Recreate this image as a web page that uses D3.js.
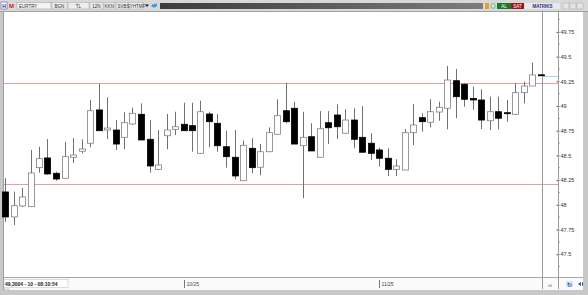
<!DOCTYPE html>
<html>
<head>
<meta charset="utf-8">
<script src="https://cdn.jsdelivr.net/npm/d3@7.9.0/dist/d3.min.js"></script>
<style>
  html, body { margin: 0; padding: 0; background: #fff; }
  svg { display: block; font-family: "Liberation Sans", Arial, sans-serif; }
</style>
</head>
<body>
<svg id="chart" width="588" height="295"></svg>
<script>
// candle data (prices)
const opens = [48.130, 47.877, 47.988, 47.981, 48.376, 48.474, 48.319, 48.268, 48.481, 48.542,
  48.623, 48.960, 48.757, 48.757, 48.683, 48.818, 48.916, 48.663, 48.359, 48.699,
  48.764, 48.815, 48.801, 48.521, 48.919, 48.825, 48.588, 48.481, 48.244, 48.572,
  48.380, 48.537, 48.714, 48.952, 48.977, 48.598, 48.689, 48.481, 48.831, 48.909,
  48.724, 48.858, 48.683, 48.623, 48.555, 48.471, 48.359, 48.352, 48.730, 48.882,
  48.835, 48.939, 48.977, 49.256, 49.220, 49.076, 49.061, 48.851, 48.942, 48.932,
  48.916, 49.135, 49.202, 49.316];
const highs = [48.271, 48.133, 48.170, 48.555, 48.588, 48.666, 48.335, 48.639, 48.676, 48.663,
  49.061, 49.223, 49.088, 48.858, 48.936, 48.983, 49.027, 48.858, 48.757, 48.919,
  48.942, 49.033, 49.033, 49.054, 48.942, 48.919, 48.750, 48.757, 48.649, 48.673,
  48.615, 48.784, 49.068, 49.236, 49.044, 48.942, 48.825, 48.949, 48.949, 49.017,
  48.967, 48.977, 49.000, 48.724, 48.578, 48.572, 48.461, 48.767, 49.020, 48.926,
  49.068, 49.044, 49.405, 49.375, 49.230, 49.195, 49.169, 49.094, 49.094, 49.061,
  49.230, 49.246, 49.438, 49.316];
const lows = [47.826, 47.796, 47.978, 47.981, 48.325, 48.305, 48.244, 48.268, 48.423, 48.521,
  48.582, 48.747, 48.666, 48.555, 48.562, 48.808, 48.656, 48.325, 48.352, 48.562,
  48.706, 48.750, 48.537, 48.514, 48.582, 48.537, 48.376, 48.258, 48.244, 48.319,
  48.299, 48.537, 48.714, 48.825, 48.615, 48.066, 48.545, 48.481, 48.615, 48.666,
  48.724, 48.572, 48.532, 48.454, 48.386, 48.292, 48.292, 48.352, 48.605, 48.740,
  48.784, 48.851, 48.764, 48.876, 48.993, 48.960, 48.767, 48.757, 48.764, 48.841,
  48.916, 49.027, 49.202, 49.306];
const closes = [47.877, 47.991, 48.079, 48.322, 48.467, 48.312, 48.261, 48.487, 48.504, 48.565,
  48.952, 48.750, 48.777, 48.615, 48.831, 48.926, 48.656, 48.393, 48.403, 48.757,
  48.790, 48.750, 48.750, 48.942, 48.841, 48.598, 48.487, 48.292, 48.602, 48.376,
  48.537, 48.730, 48.902, 48.841, 48.615, 48.683, 48.545, 48.770, 48.780, 48.790,
  48.858, 48.663, 48.532, 48.521, 48.471, 48.359, 48.393, 48.730, 48.808, 48.841,
  48.942, 48.987, 49.263, 49.094, 49.068, 49.061, 48.858, 48.942, 48.876, 48.922,
  49.135, 49.202, 49.314, 49.306];

const priceTicks = [49.75, 49.5, 49.25, 49, 48.75, 48.5, 48.25, 48, 47.75, 47.5];
const minorTicks = [49.875, 49.625, 49.375, 49.125, 48.875, 48.625, 48.375, 48.125, 47.875, 47.625, 47.375];
const dateLabels = [{ index: 21, text: "10/25" }, { index: 44, text: "11/25" }];
const levelLines = [49.236, 48.21];
const lastPrice = 49.30;
const statusText = "49,3004 - 10 - 08:10:54";
const toolbarItems = ["BGN", "TL", "12N", "KKN", "SVB", "SYHTMF"];

const svg = d3.select("#chart");
const width = 588, height = 295;

const plot = { left: 4, right: 583, top: 12, bottom: 277 };
const axisX = 558, cursorX = 542;

const x = d3.scaleLinear().domain([0, opens.length - 1]).range([5, 540.5]);
// y(49) = 106, 98.8px per unit
const y = d3.scaleLinear()
  .domain([49 - (plot.bottom - 106) / 98.8, 49 + (106 - plot.top) / 98.8])
  .range([plot.bottom, plot.top]);

// window frame
svg.append("rect").attr("width", width).attr("height", height).attr("fill", "#c8c8c8");
svg.append("rect").attr("x", 0).attr("y", 0).attr("width", width).attr("height", 11).attr("fill", "#d8d8d8");
svg.append("line").attr("x1", 0).attr("x2", width).attr("y1", 11.5).attr("y2", 11.5).attr("stroke", "#a0a0a0");

// toolbar
svg.append("rect").attr("x", 1).attr("y", 2).attr("width", 6).attr("height", 7).attr("fill", "#fff").attr("stroke", "#5060a0").attr("stroke-width", 0.6);
svg.append("text").attr("x", 2.2).attr("y", 7.8).style("font-size", "5px").style("font-weight", "bold").attr("fill", "#203080").text("H");
svg.append("text").attr("x", 9).attr("y", 8).style("font-size", "6px").style("font-weight", "bold").attr("fill", "#d02020").text("M");
svg.append("rect").attr("x", 17).attr("y", 2.5).attr("width", 34).attr("height", 6.5).attr("fill", "#f4f4f4").attr("stroke", "#999").attr("stroke-width", 0.5);
svg.append("text").attr("x", 19).attr("y", 7.8).style("font-size", "4.5px").attr("fill", "#333").text("EURTRY");

const itemX = [52, 68, 90, 104, 116, 129];
const itemW = [15, 21, 13, 11, 12, 14];
toolbarItems.forEach((t, i) => {
  svg.append("rect").attr("x", itemX[i]).attr("y", 2.5).attr("width", itemW[i]).attr("height", 6.5)
    .attr("fill", "#ececec").attr("stroke", "#a8a8a8").attr("stroke-width", 0.5);
  svg.append("text").attr("x", itemX[i] + itemW[i] / 2).attr("y", 7.8).attr("text-anchor", "middle")
    .style("font-size", "4.5px").attr("fill", "#333").text(t);
});
svg.append("path").attr("d", "M145,4.5 L149,4.5 L147,7 Z").attr("fill", "#223");
svg.append("path").attr("d", "M151,6 Q153,3 156,4 L157,3 L157,6 Q155,9 151,6 Z").attr("fill", "#3aa0e0");

const grad = svg.append("defs").append("linearGradient").attr("id", "bar").attr("x1", 0).attr("x2", 1);
grad.append("stop").attr("offset", 0).attr("stop-color", "#3c3c3c");
grad.append("stop").attr("offset", 1).attr("stop-color", "#7c7c7c");
svg.append("rect").attr("x", 160).attr("y", 3).attr("width", 323).attr("height", 6).attr("fill", "url(#bar)");

svg.append("rect").attr("x", 485).attr("y", 3).attr("width", 4).attr("height", 6).attr("fill", "#e0a020");
svg.append("circle").attr("cx", 493).attr("cy", 6).attr("r", 2.3).attr("fill", "#d0e8d8").attr("stroke", "#409060").attr("stroke-width", 0.6);
svg.append("rect").attr("x", 497).attr("y", 3).attr("width", 14).attr("height", 6).attr("fill", "#1a7a2a");
svg.append("text").attr("x", 504).attr("y", 7.8).attr("text-anchor", "middle").style("font-size", "4.5px").attr("fill", "#fff").text("AL");
svg.append("rect").attr("x", 511).attr("y", 3).attr("width", 13).attr("height", 6).attr("fill", "#9a1a1a");
svg.append("text").attr("x", 517.5).attr("y", 7.8).attr("text-anchor", "middle").style("font-size", "4.5px").attr("fill", "#fff").text("SAT");
svg.append("rect").attr("x", 525).attr("y", 3).attr("width", 35).attr("height", 6).attr("fill", "#e8e8f0");
svg.append("text").attr("x", 542.5).attr("y", 7.8).attr("text-anchor", "middle").style("font-size", "4.5px").style("font-weight", "bold").attr("fill", "#303080").text("MATRIKS");
[563, 570, 577].forEach(bx => {
  svg.append("rect").attr("x", bx).attr("y", 3).attr("width", 6).attr("height", 6).attr("fill", "#e4e4e4").attr("stroke", "#aaa").attr("stroke-width", 0.5);
});

// plot area
svg.append("rect").attr("x", plot.left).attr("y", plot.top).attr("width", plot.right - plot.left).attr("height", plot.bottom - plot.top).attr("fill", "#fff");
svg.append("line").attr("x1", 3.5).attr("x2", 3.5).attr("y1", plot.top).attr("y2", 290).attr("stroke", "#a0a0a0");

// bottom strip
svg.append("rect").attr("x", plot.left).attr("y", plot.bottom + 1).attr("width", plot.right - plot.left).attr("height", 12).attr("fill", "#fafafa");
svg.append("line").attr("x1", plot.left).attr("x2", plot.right).attr("y1", plot.bottom + 0.5).attr("y2", plot.bottom + 0.5).attr("stroke", "#a8a8a8");
svg.append("rect").attr("x", 4).attr("y", 279.5).attr("width", 64).attr("height", 8).attr("fill", "#fff").attr("stroke", "#bbb").attr("stroke-width", 0.5);
svg.append("text").attr("x", 5).attr("y", 285.8).style("font-size", "5px").style("font-weight", "bold").attr("fill", "#222").text(statusText);
svg.append("rect").attr("x", 4).attr("y", 289).attr("width", 5).attr("height", 4).attr("fill", "#e8e8e8").attr("stroke", "#999").attr("stroke-width", 0.4);

// level lines
svg.selectAll("line.level")
  .data(levelLines)
  .join("line")
  .attr("class", "level")
  .attr("x1", plot.left)
  .attr("x2", axisX)
  .attr("y1", d => Math.round(y(d)) + 0.5)
  .attr("y2", d => Math.round(y(d)) + 0.5)
  .attr("stroke", "#f29a9a")
  .attr("stroke-width", 1);

// vertical cursor and axis lines
svg.append("line").attr("x1", cursorX + 0.5).attr("x2", cursorX + 0.5).attr("y1", plot.top).attr("y2", plot.bottom)
  .attr("stroke", "#9a9a9a");

// last price marker
svg.append("line").attr("x1", cursorX).attr("x2", axisX).attr("y1", Math.round(y(lastPrice)) + 0.5).attr("y2", Math.round(y(lastPrice)) + 0.5)
  .attr("stroke", "#8fe4e8");

// candles
const candles = opens.map((o, i) => ({ i, o, h: highs[i], l: lows[i], c: closes[i] }));
const bodyW = 6;

const g = svg.append("g");
g.selectAll("line.wick")
  .data(candles)
  .join("line")
  .attr("class", "wick")
  .attr("x1", d => Math.round(x(d.i)) + 0.5)
  .attr("x2", d => Math.round(x(d.i)) + 0.5)
  .attr("y1", d => y(d.h))
  .attr("y2", d => y(d.l))
  .attr("stroke", "#707070")
  .attr("stroke-width", 1);

g.selectAll("rect.body")
  .data(candles)
  .join("rect")
  .attr("class", "body")
  .attr("x", d => Math.round(x(d.i)) + 0.5 - bodyW / 2)
  .attr("y", d => y(Math.max(d.o, d.c)))
  .attr("width", bodyW)
  .attr("height", d => Math.max(1, Math.abs(y(d.o) - y(d.c))))
  .attr("fill", d => d.c >= d.o ? "#fff" : "#000")
  .attr("stroke", d => d.c >= d.o ? "#808080" : "#000")
  .attr("stroke-width", 0.8);

// price axis
const axis = d3.axisRight(y)
  .tickValues(priceTicks)
  .tickSize(3)
  .tickPadding(1)
  .tickFormat(d => String(d));

const ag = svg.append("g").attr("transform", `translate(${axisX - 1.5},0)`).call(axis);
ag.select(".domain").remove();
ag.selectAll("text").style("font-size", "5.5px").attr("fill", "#333");
ag.selectAll("line").attr("stroke", "#555");

svg.append("g")
  .selectAll("line")
  .data(minorTicks)
  .join("line")
  .attr("x1", axisX)
  .attr("x2", axisX + 1.5)
  .attr("y1", d => y(d))
  .attr("y2", d => y(d))
  .attr("stroke", "#555");

svg.append("line").attr("x1", axisX + 0.5).attr("x2", axisX + 0.5).attr("y1", plot.top).attr("y2", plot.bottom)
  .attr("stroke", "#9a9a9a");
svg.append("line").attr("x1", cursorX + 0.5).attr("x2", cursorX + 0.5).attr("y1", plot.bottom).attr("y2", plot.bottom + 12)
  .attr("stroke", "#9a9a9a");
svg.append("line").attr("x1", axisX + 0.5).attr("x2", axisX + 0.5).attr("y1", plot.bottom).attr("y2", plot.bottom + 12)
  .attr("stroke", "#9a9a9a");

// date labels
dateLabels.forEach(dl => {
  const px = Math.round(x(dl.index)) + 0.5;
  svg.append("line").attr("x1", px).attr("x2", px).attr("y1", 280).attr("y2", 288).attr("stroke", "#777");
  svg.append("text").attr("x", px + 2).attr("y", 285.8).style("font-size", "5px").attr("fill", "#444").text(dl.text);
});

// bottom right icons
svg.append("text").attr("x", 548).attr("y", 287).style("font-size", "4px").attr("fill", "#666").text("ılıl");
svg.append("rect").attr("x", 566).attr("y", 281).attr("width", 7).attr("height", 6).attr("fill", "#d8e4f4");
svg.append("text").attr("x", 566.5).attr("y", 286.5).style("font-size", "6px").style("font-weight", "bold").attr("fill", "#2050c0").text("↻");
svg.append("path").attr("d", "M578,284 L581,282 L581,286 Z M582,282 L585,284 L582,286 Z").attr("fill", "#2050c0");

// right and bottom border
svg.append("rect").attr("x", plot.right).attr("y", plot.top).attr("width", width - plot.right).attr("height", height - plot.top).attr("fill", "#c8c8c8");
svg.append("rect").attr("x", 0).attr("y", 290).attr("width", width).attr("height", 5).attr("fill", "#c8c8c8");
</script>
</body>
</html>
